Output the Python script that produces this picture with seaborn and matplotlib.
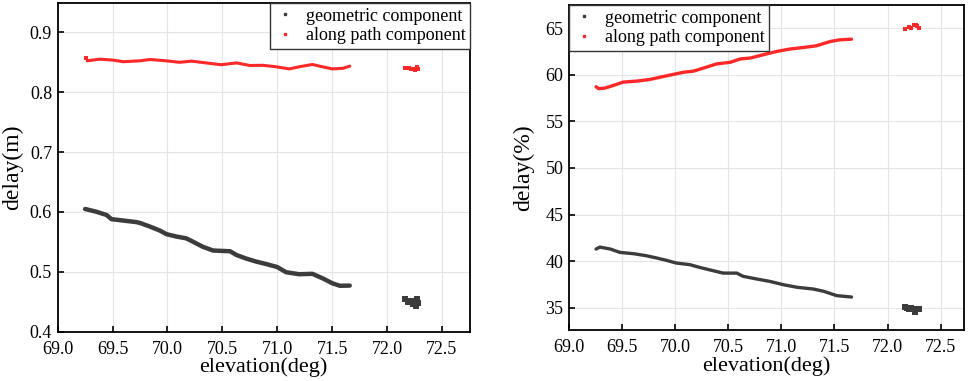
import numpy as np
import pandas as pd
import matplotlib
matplotlib.use("Agg")
import matplotlib.pyplot as plt
from matplotlib.lines import Line2D
import seaborn as sns

# ---------------- data ----------------
# Left panel: delay (m)
geo_m_x = [69.25, 69.35, 69.445, 69.49, 69.6, 69.72, 69.76, 69.84, 69.93, 69.99, 70.08, 70.17,
           70.23, 70.32, 70.415, 70.57, 70.63, 70.72, 70.81, 70.9, 71.0, 71.08, 71.2, 71.32,
           71.415, 71.5, 71.57, 71.66]
geo_m_y = [0.605, 0.6005, 0.595, 0.588, 0.5856, 0.583, 0.581, 0.5756, 0.569, 0.563, 0.559, 0.556,
           0.5506, 0.542, 0.5356, 0.5344, 0.528, 0.522, 0.517, 0.513, 0.508, 0.4994, 0.496, 0.4967,
           0.489, 0.481, 0.4767, 0.477]
geo_m_cx = [72.16, 72.2, 72.25, 72.28, 72.26, 72.22, 72.27, 72.24, 72.19]
geo_m_cy = [0.455, 0.452, 0.450, 0.448, 0.443, 0.452, 0.455, 0.446, 0.449]

alo_m_x = [69.27, 69.385, 69.506, 69.6, 69.75, 69.84, 69.99, 70.11, 70.22, 70.35, 70.49, 70.63,
           70.75, 70.87, 70.99, 71.11, 71.2, 71.32, 71.385, 71.5, 71.6, 71.66]
alo_m_y = [0.8525, 0.8553, 0.8536, 0.851, 0.8525, 0.8547, 0.8525, 0.850, 0.852, 0.849, 0.846, 0.849,
           0.8447, 0.845, 0.8425, 0.839, 0.8425, 0.8464, 0.8436, 0.839, 0.840, 0.8436]
alo_m_cx = [69.26, 72.16, 72.2, 72.24, 72.27, 72.28, 72.25, 72.22]
alo_m_cy = [0.858, 0.841, 0.840, 0.839, 0.842, 0.838, 0.837, 0.8395]

# Right panel: delay (%)
geo_p_x = [69.255, 69.29, 69.39, 69.48, 69.61, 69.73, 69.83, 69.92, 70.01, 70.14, 70.23, 70.36,
           70.45, 70.58, 70.64, 70.77, 70.89, 71.02, 71.15, 71.3, 71.4, 71.52, 71.66]
geo_p_y = [41.29, 41.5, 41.29, 40.93, 40.79, 40.57, 40.32, 40.07, 39.79, 39.61, 39.32, 38.96,
           38.71, 38.71, 38.36, 38.07, 37.82, 37.46, 37.18, 37.0, 36.75, 36.29, 36.14]
geo_p_cx = [72.16, 72.2, 72.25, 72.28, 72.26, 72.3, 72.22, 72.18]
geo_p_cy = [35.05, 34.9, 34.85, 34.8, 34.55, 34.9, 35.0, 34.95]

alo_p_x = [69.255, 69.28, 69.34, 69.42, 69.51, 69.64, 69.76, 69.86, 69.98, 70.08, 70.17, 70.27,
           70.39, 70.52, 70.61, 70.71, 70.83, 70.96, 71.08, 71.21, 71.33, 71.46, 71.55, 71.66]
alo_p_y = [58.72, 58.51, 58.58, 58.87, 59.22, 59.33, 59.5, 59.75, 60.04, 60.28, 60.39, 60.74,
           61.17, 61.35, 61.7, 61.81, 62.16, 62.52, 62.77, 62.94, 63.12, 63.58, 63.76, 63.83]
alo_p_cx = [72.16, 72.2, 72.25, 72.28, 72.3, 72.22, 72.27]
alo_p_cy = [64.95, 65.1, 65.3, 65.2, 65.05, 65.0, 65.4]

series_labels = ["geometric component", "along path component"]
x_ticks = [69.0, 69.5, 70.0, 70.5, 71.0, 71.5, 72.0, 72.5]
left_yticks = [0.4, 0.5, 0.6, 0.7, 0.8, 0.9]
right_yticks = [35, 40, 45, 50, 55, 60, 65]

GEO_C = "#3c3c3c"
ALO_C = "#ff2828"

# ---------------- style ----------------
sns.set_theme(style="whitegrid")
plt.rcParams["font.family"] = ["Liberation Serif", "DejaVu Serif"]
plt.rcParams.update({
    "axes.edgecolor": "black",
    "axes.linewidth": 1.3,
    "grid.color": "#e4e4e4",
    "grid.linewidth": 0.8,
    "xtick.direction": "in",
    "ytick.direction": "in",
    "xtick.bottom": True,
    "ytick.left": True,
    "xtick.major.size": 4.5,
    "ytick.major.size": 4.5,
    "xtick.color": "black",
    "ytick.color": "black",
    "text.color": "black",
    "axes.labelcolor": "black",
})

fig = plt.figure(figsize=(9.69, 3.81), dpi=100)
axL = fig.add_axes([0.0595, 0.1294, 0.4255, 0.8626])
axR = fig.add_axes([0.5872, 0.1339, 0.4077, 0.853])


def draw(ax, gx, gy, gcx, gcy, ax_, ay, acx, acy, lw_g, lw_a):
    sns.lineplot(x=gx, y=gy, ax=ax, color=GEO_C, lw=lw_g, sort=False, estimator=None)
    sns.lineplot(x=ax_, y=ay, ax=ax, color=ALO_C, lw=lw_a, sort=False, estimator=None)
    sns.scatterplot(x=gcx, y=gcy, ax=ax, color=GEO_C, marker="s", s=22, linewidth=0)
    sns.scatterplot(x=acx, y=acy, ax=ax, color=ALO_C, marker="s", s=12, linewidth=0)


draw(axL, geo_m_x, geo_m_y, geo_m_cx, geo_m_cy, alo_m_x, alo_m_y, alo_m_cx, alo_m_cy, 3.2, 2.2)
draw(axR, geo_p_x, geo_p_y, geo_p_cx, geo_p_cy, alo_p_x, alo_p_y, alo_p_cx, alo_p_cy, 2.4, 2.4)

axL.set_xlim(69.0, 72.755)
axL.set_ylim(0.4, 0.949)
axR.set_xlim(69.0, 72.72)
axR.set_ylim(32.6, 67.5)

for ax in (axL, axR):
    ax.set_xticks(x_ticks)
    ax.set_xticklabels([f"{t:.1f}" for t in x_ticks], fontsize=13)
    ax.set_xlabel("elevation(deg)", fontsize=16, labelpad=0)
    ax.tick_params(axis="both", which="major", pad=4, width=1.2)
    ax.tick_params(axis="x", which="major", pad=6.5)
    ax.grid(True)
    for s in ax.spines.values():
        s.set_visible(True)
        s.set_color("black")

axL.set_yticks(left_yticks)
axL.set_yticklabels([f"{t:.1f}" for t in left_yticks], fontsize=13)
axR.set_yticks(right_yticks)
axR.set_yticklabels([str(t) for t in right_yticks], fontsize=13)
axL.set_ylabel("delay(m)", fontsize=17, labelpad=5)
axR.set_ylabel("delay(%)", fontsize=17, labelpad=8)

handles = [
    Line2D([], [], linestyle="none", marker="s", markersize=2, color=GEO_C),
    Line2D([], [], linestyle="none", marker="s", markersize=2, color=ALO_C),
]
for ax, loc in ((axL, "upper right"), (axR, "upper left")):
    leg = ax.legend(handles, series_labels, loc=loc, fontsize=13, frameon=True,
                    fancybox=False, borderaxespad=0.0, handlelength=1.2,
                    handletextpad=0.55, borderpad=0.25, labelspacing=0.15)
    leg.get_frame().set_edgecolor("#333333")
    leg.get_frame().set_linewidth(1.0)
    leg.get_frame().set_alpha(1.0)

fig.savefig("out.png", dpi=100)
